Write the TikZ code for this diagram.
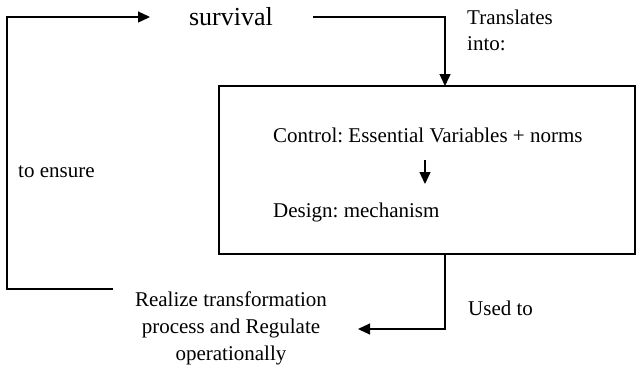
\documentclass[tikz,border=0pt]{standalone}
\usepackage{fontspec}
\setmainfont{Liberation Serif}
\usetikzlibrary{arrows.meta}
\frenchspacing
\begin{document}
\begin{tikzpicture}[x=1pt,y=-1pt,
  link/.style={line width=1.3pt},
  arrowlink/.style={link,-{Triangle[length=12pt,width=11pt]}},
  txt/.style={inner sep=0pt,font=\fontsize{21}{26}\selectfont},
  bigtxt/.style={inner sep=0pt,font=\fontsize{26}{30}\selectfont}]
\useasboundingbox (0,0) rectangle (636,368);
% central box
\draw[link] (219,86) rectangle (635,254);
\coordinate (boxtop) at (445,86);
\coordinate (boxbot) at (445,254);
% texts
\node[bigtxt] (surv) at (231,17) {survival};
\node[txt,anchor=west,align=left] (trans) at (467,30) {Translates\\into:};
\node[txt,anchor=west] (ctrl) at (273,135) {Control: Essential Variables + norms};
\node[txt,anchor=west] (des) at (273,212) {Design: mechanism};
\node[txt,anchor=west] (ens) at (18,172) {to ensure};
\node[txt,anchor=west] (used) at (468,308) {Used to};
\node[txt,align=center,font=\fontsize{21}{27}\selectfont] (real) at (231,328) {Realize transformation\\process and Regulate\\operationally};
% connectors
\coordinate (tl) at (7,17);
\coordinate (bl) at (7,289);
\coordinate (blend) at (113,289);
\coordinate (intoend) at (150,17);
\draw[arrowlink] (blend) -- (bl) -- (tl) -- (intoend);
\coordinate (survright) at (313,17);
\draw[arrowlink] (survright) -- (445,17) -- (boxtop);
\coordinate (ca) at (425,160);
\coordinate (cb) at (425,184);
\draw[arrowlink] (ca) -- (cb);
\coordinate (realend) at (358,329);
\draw[arrowlink] (boxbot) -- (445,329) -- (realend);
\end{tikzpicture}
\end{document}
